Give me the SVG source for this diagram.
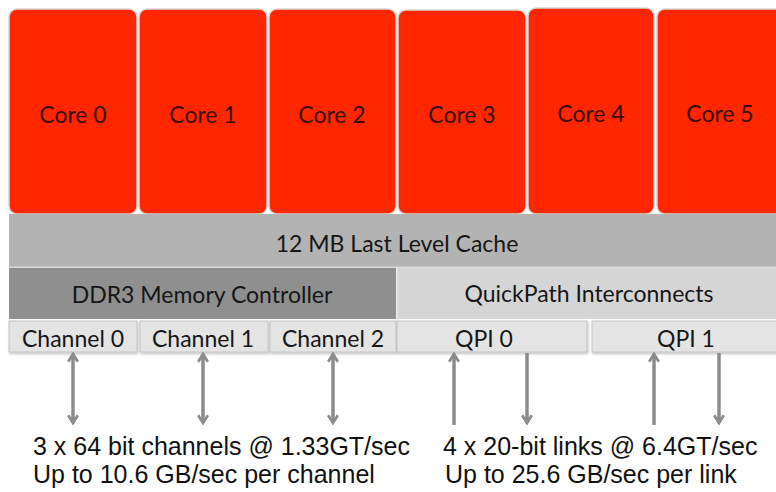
<svg xmlns="http://www.w3.org/2000/svg" width="776" height="492" viewBox="0 0 776 492">
  <style>
    .core { fill: #ff2600; stroke: #d8d8d8; stroke-width: 1.5; }
    .core-label { font-family: Lato, "Open Sans", sans-serif; font-size: 23px; fill: #3a0c00; text-anchor: middle; }
    .box-label { font-family: Lato, "Open Sans", sans-serif; font-size: 23px; fill: #161616; text-anchor: middle; }
    .port { fill: #e4e4e4; stroke: #c4c4c4; stroke-width: 1; }
    .link { stroke: #8c8c8c; stroke-width: 3.5; fill: none; }
    .note { font-family: "Liberation Sans", Arial, sans-serif; font-size: 25px; fill: #111; }
  </style>
  <defs>
    <marker id="head" viewBox="0 0 10 10" refX="8.5" refY="5" markerWidth="12" markerHeight="12" markerUnits="userSpaceOnUse" orient="auto-start-reverse">
      <path d="M2,1 L8.5,5 L2,9" fill="none" stroke="#8c8c8c" stroke-width="2.3" stroke-linejoin="miter"/>
    </marker>
    <filter id="drop" x="-5%" y="-20%" width="110%" height="150%">
      <feDropShadow dx="1" dy="1.5" stdDeviation="0.8" flood-color="#000" flood-opacity="0.25"/>
    </filter>
  </defs>
  <rect width="776" height="492" fill="#ffffff"/>

  <!-- processor cores -->
  <g id="core0"><rect class="core" x="9" y="9" width="128" height="205" rx="8"/><text class="core-label" x="73" y="123">Core 0</text></g>
  <g id="core1"><rect class="core" x="139" y="9" width="128" height="205" rx="8"/><text class="core-label" x="203" y="123">Core 1</text></g>
  <g id="core2"><rect class="core" x="269" y="9" width="127" height="205" rx="8"/><text class="core-label" x="332" y="123">Core 2</text></g>
  <g id="core3"><rect class="core" x="398" y="10" width="128" height="204" rx="8"/><text class="core-label" x="462" y="123">Core 3</text></g>
  <g id="core4"><rect class="core" x="528" y="8" width="126" height="206" rx="8"/><text class="core-label" x="591" y="122">Core 4</text></g>
  <g id="core5"><rect class="core" x="657" y="9" width="128" height="205" rx="8"/><text class="core-label" x="720" y="122">Core 5</text></g>

  <!-- shared cache -->
  <g id="cache">
    <rect x="9" y="214" width="770" height="53" fill="#b3b3b3"/>
    <line x1="9" y1="267" x2="776" y2="267" stroke="#cfcfcf" stroke-width="1.5"/>
    <text class="box-label" x="397" y="252">12 MB Last Level Cache</text>
  </g>

  <!-- memory controller and interconnect -->
  <g id="memctrl">
    <rect x="9" y="268" width="387" height="51" fill="#8f8f8f"/>
    <text class="box-label" x="202" y="303">DDR3 Memory Controller</text>
  </g>
  <g id="qpi">
    <rect x="397" y="268" width="382" height="51" fill="#d5d5d5"/>
    <line x1="397" y1="268" x2="397" y2="319" stroke="#e6e6e6" stroke-width="1.5"/>
    <text class="box-label" x="589" y="302">QuickPath Interconnects</text>
  </g>

  <!-- ports -->
  <g id="channel0"><rect class="port" filter="url(#drop)" x="9" y="321" width="128" height="31"/><text class="box-label" x="73" y="347">Channel 0</text></g>
  <g id="channel1"><rect class="port" filter="url(#drop)" x="140" y="321" width="128" height="31"/><text class="box-label" x="203" y="347">Channel 1</text></g>
  <g id="channel2"><rect class="port" filter="url(#drop)" x="270" y="321" width="126" height="31"/><text class="box-label" x="333" y="347">Channel 2</text></g>
  <g id="qpi0"><rect class="port" filter="url(#drop)" x="397" y="321" width="190" height="31"/><text class="box-label" x="484" y="347">QPI 0</text></g>
  <g id="qpi1"><rect class="port" filter="url(#drop)" x="592" y="321" width="187" height="31"/><text class="box-label" x="686" y="347">QPI 1</text></g>

  <!-- links -->
  <g id="connectors">
    <line class="link" x1="73" y1="354" x2="73" y2="423" marker-start="url(#head)" marker-end="url(#head)"/>
    <line class="link" x1="203" y1="354" x2="203" y2="423" marker-start="url(#head)" marker-end="url(#head)"/>
    <line class="link" x1="333" y1="354" x2="333" y2="423" marker-start="url(#head)" marker-end="url(#head)"/>
    <line class="link" x1="454" y1="425" x2="454" y2="354" marker-end="url(#head)"/>
    <line class="link" x1="527" y1="353" x2="527" y2="423" marker-end="url(#head)"/>
    <line class="link" x1="654" y1="425" x2="654" y2="354" marker-end="url(#head)"/>
    <line class="link" x1="719" y1="353" x2="719" y2="423" marker-end="url(#head)"/>
  </g>

  <!-- bandwidth notes -->
  <text class="note" x="33" y="455">3 x 64 bit channels @ 1.33GT/sec</text>
  <text class="note" x="33" y="483">Up to 10.6 GB/sec per channel</text>
  <text class="note" x="443" y="455">4 x 20-bit links @ 6.4GT/sec</text>
  <text class="note" x="445" y="483">Up to 25.6 GB/sec per link</text>
</svg>
